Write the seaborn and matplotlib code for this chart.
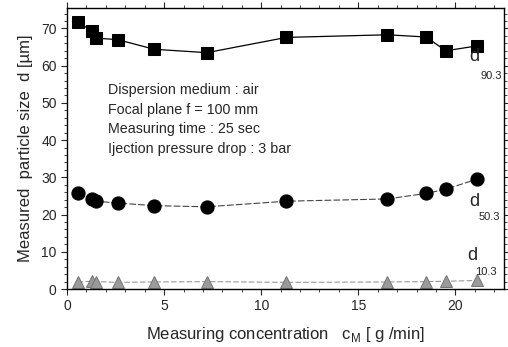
import matplotlib
matplotlib.use("Agg")
import matplotlib.pyplot as plt
import seaborn as sns
import pandas as pd
from matplotlib.ticker import MultipleLocator

# ==========================================
# DATA
# ==========================================

conc_d90 = [0.55, 1.3, 1.5, 2.6, 4.5, 7.2, 11.3, 16.5, 18.5, 19.5, 21.1]
d90 = [71.8, 69.2, 67.4, 67.0, 64.4, 63.5, 67.6, 68.3, 67.7, 64.0, 65.3]

conc_d50 = [0.55, 1.3, 1.5, 2.6, 4.5, 7.2, 11.3, 16.5, 18.5, 19.5, 21.1]
d50 = [25.7, 24.2, 23.6, 23.1, 22.4, 22.1, 23.6, 24.2, 25.7, 26.8, 29.5]

conc_d10 = [0.55, 1.3, 1.5, 2.6, 4.5, 7.2, 11.3, 16.5, 18.5, 19.5, 21.1]
d10 = [1.9, 2.1, 2.0, 1.8, 1.9, 2.0, 1.8, 1.9, 2.0, 2.1, 2.3]

info_lines = [
    "Dispersion medium : air",
    "Focal plane f = 100 mm",
    "Measuring time : 25 sec",
    "Ijection pressure drop : 3 bar",
]

# ==========================================
# PLOT
# ==========================================

sns.set_theme(style="ticks")
plt.rcParams["font.family"] = ["Liberation Sans", "DejaVu Sans"]

fig = plt.figure(figsize=(5.08, 3.47), dpi=100)
ax = fig.add_axes([0.132, 0.167, 0.86, 0.81])

sns.lineplot(x=conc_d90, y=d90, ax=ax, color="black", lw=0.9,
             marker="s", markersize=9, markeredgecolor="black")
sns.lineplot(x=conc_d50, y=d50, ax=ax, color="#444444", lw=0.8,
             linestyle=(0, (6, 2)), marker="o", markersize=9.5,
             markerfacecolor="black", markeredgecolor="black")
sns.lineplot(x=conc_d10, y=d10, ax=ax, color="#999999", lw=0.8,
             linestyle=(0, (5, 2)), marker="^", markersize=8,
             markerfacecolor="#9a9a9a", markeredgecolor="#777777")

ax.set_xlim(0, 22.5)
ax.set_ylim(0, 75.5)
ax.xaxis.set_major_locator(MultipleLocator(5))
ax.xaxis.set_minor_locator(MultipleLocator(1))
ax.yaxis.set_major_locator(MultipleLocator(10))
ax.yaxis.set_minor_locator(MultipleLocator(2))
ax.tick_params(which="major", direction="out", length=4, width=0.8,
               labelsize=10, top=True, right=True)
ax.tick_params(which="minor", direction="out", length=2, width=0.6,
               top=True, right=True)
for side in ["top", "right", "left", "bottom"]:
    ax.spines[side].set_visible(True)
    ax.spines[side].set_linewidth(1.0)
    ax.spines[side].set_color("black")

ax.set_ylabel("Measured  particle size  d [µm]", fontsize=12, labelpad=6)
ax.set_xlabel(r"Measuring concentration   c$_{\mathregular{M}}$ [ g /min]",
              fontsize=12, labelpad=8)

for i, line in enumerate(info_lines):
    ax.text(2.1, 53.5 - i * 5.3, line, fontsize=10.3, va="center")

ax.text(20.7, 62.6, "d", fontsize=13, va="center")
ax.text(21.3, 57.3, "90.3", fontsize=8, va="center")
ax.text(20.7, 23.5, "d", fontsize=13, va="center")
ax.text(21.2, 19.3, "50.3", fontsize=8, va="center")
ax.text(20.6, 9.0, "d", fontsize=13, va="center")
ax.text(21.0, 4.6, "10.3", fontsize=8, va="center")

plt.savefig("out.png", dpi=100)
plt.close()
